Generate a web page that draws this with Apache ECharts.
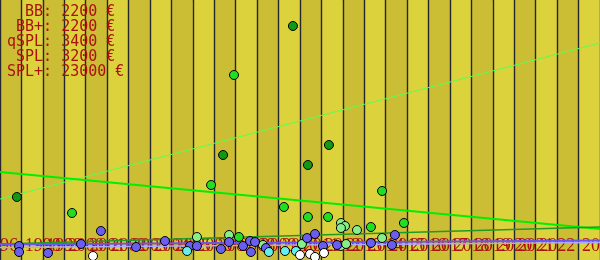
<!DOCTYPE html>
<html><head><meta charset="utf-8">
<script src="https://cdn.jsdelivr.net/npm/echarts@6/dist/echarts.min.js"></script>
<style>html,body{margin:0;padding:0;background:#dcd23c}#c{width:600px;height:260px}</style>
</head><body><div id="c"></div>
<script>
// price summary lines
const priceLines = ["  BB: 2200 €", " BB+: 2200 €", "qSPL: 3400 €", " SPL: 3200 €", "SPL+: 23000 €"];
// x axis: years
const yearMin = 1996, yearMax = 2024;
// series points: [year, price €]
const darkGreen = [[1996.79,6300],[2006.41,10500],[2009.67,23400],[2010.37,9500],[2011.35,11500]];
const brightGreen = [[1999.36,4700],[2005.85,7500],[2006.92,18500],[2009.25,5300],[2010.37,4300],[2011.31,4300],[2013.31,3300],[2013.83,6900],[2014.85,3700],[2007.15,2300]];
const paleGreen = [[2005.19,2300],[2006.69,2500],[2008.27,1500],[2010.09,1600],[2011.91,3700],[2012.10,3400],[2011.91,3200],[2011.91,1400],[2012.15,1600],[2012.66,3000],[2013.83,2200]];
const purple = [[1996.89,1400],[1996.89,800],[1998.24,700],[1999.78,1600],[2000.71,2900],[2002.35,1300],[2003.70,1900],[2004.87,1400],[2005.19,1400],[2006.31,1100],[2006.69,1800],[2007.34,1400],[2007.67,1900],[2007.90,1800],[2007.71,800],[2008.41,1200],[2010.33,2200],[2010.70,2600],[2011.07,1400],[2011.73,1500],[2013.31,1700],[2014.29,1500],[2014.43,2500]];
const cyan = [[2004.73,900],[2008.55,800],[2009.30,900],[2009.81,900]];
const white = [[2000.34,400],[2010.0,500],[2010.47,600],[2010.70,300],[2011.12,700]];
// trend lines: [year, price €] endpoints
const trendDark = [[1996,6100],[2024,21700]];
const trendBright = [[1996,8800],[2024,3100]];
const trendPale = [[1996,1600],[2024,3300]];
const trendPurple = [[1996,1550],[2024,1950]];
const trendLight = [[1996,1250],[2024,1750]];

const chart = echarts.init(document.getElementById('c'), null, {renderer:'canvas'});
function pts(name, data, color){
  return {type:'scatter', name, data, symbolSize:9, z:5,
    itemStyle:{color, borderColor:'#000', borderWidth:1, opacity:1}};
}
function line(name, data, color, width){
  return {type:'line', name, data, symbol:'none', z:4, silent:true,
    lineStyle:{color, width}};
}
chart.setOption({
  animation:false,
  backgroundColor:'#dcd23c',
  grid:{left:0, right:0, top:0, bottom:0, containLabel:false, outerBoundsMode:'none',
    show:true, borderColor:'#111', borderWidth:1.5, backgroundColor:'transparent'},
  title:{text:priceLines.join('\n'), left:7, top:5, padding:0,
    textStyle:{fontFamily:'DejaVu Sans Mono', fontSize:15, lineHeight:15, fontWeight:'normal', color:'#aa1111'}},
  xAxis:{type:'value', min:yearMin, max:yearMax, interval:1,
    axisLine:{show:false}, axisTick:{show:false},
    splitLine:{show:true, lineStyle:{color:'#26262e', width:1.4}},
    splitArea:{show:true, areaStyle:{color:['#ccbe34','#dcd23c']}},
    axisLabel:{inside:true, margin:5, color:'#aa1111', fontFamily:'Liberation Serif', fontSize:18,
      showMinLabel:true, showMaxLabel:true, hideOverlap:false, formatter:v=>String(v)}},
  yAxis:{type:'value', min:0, max:26000, show:true, axisLine:{show:false}, axisTick:{show:false},
    axisLabel:{show:false}, splitLine:{show:false}},
  series:[
    line('trendDark', trendDark, '#55ff55', 1),
    line('trendBright', trendBright, '#00ee00', 2),
    line('trendPale', trendPale, '#229922', 1.5),
    line('trendPurple', trendPurple, '#6a55ee', 2),
    line('trendLight', trendLight, '#aaaaff', 1.5),
    pts('SPL+', darkGreen, '#119911'),
    pts('SPL+ neu', brightGreen, '#22dd22'),
    pts('qSPL', paleGreen, '#88ee88'),
    pts('SPL', purple, '#6a5ef0'),
    pts('BB+', cyan, '#66eeee'),
    pts('BB', white, '#ffffff')
  ]
});
</script></body></html>
